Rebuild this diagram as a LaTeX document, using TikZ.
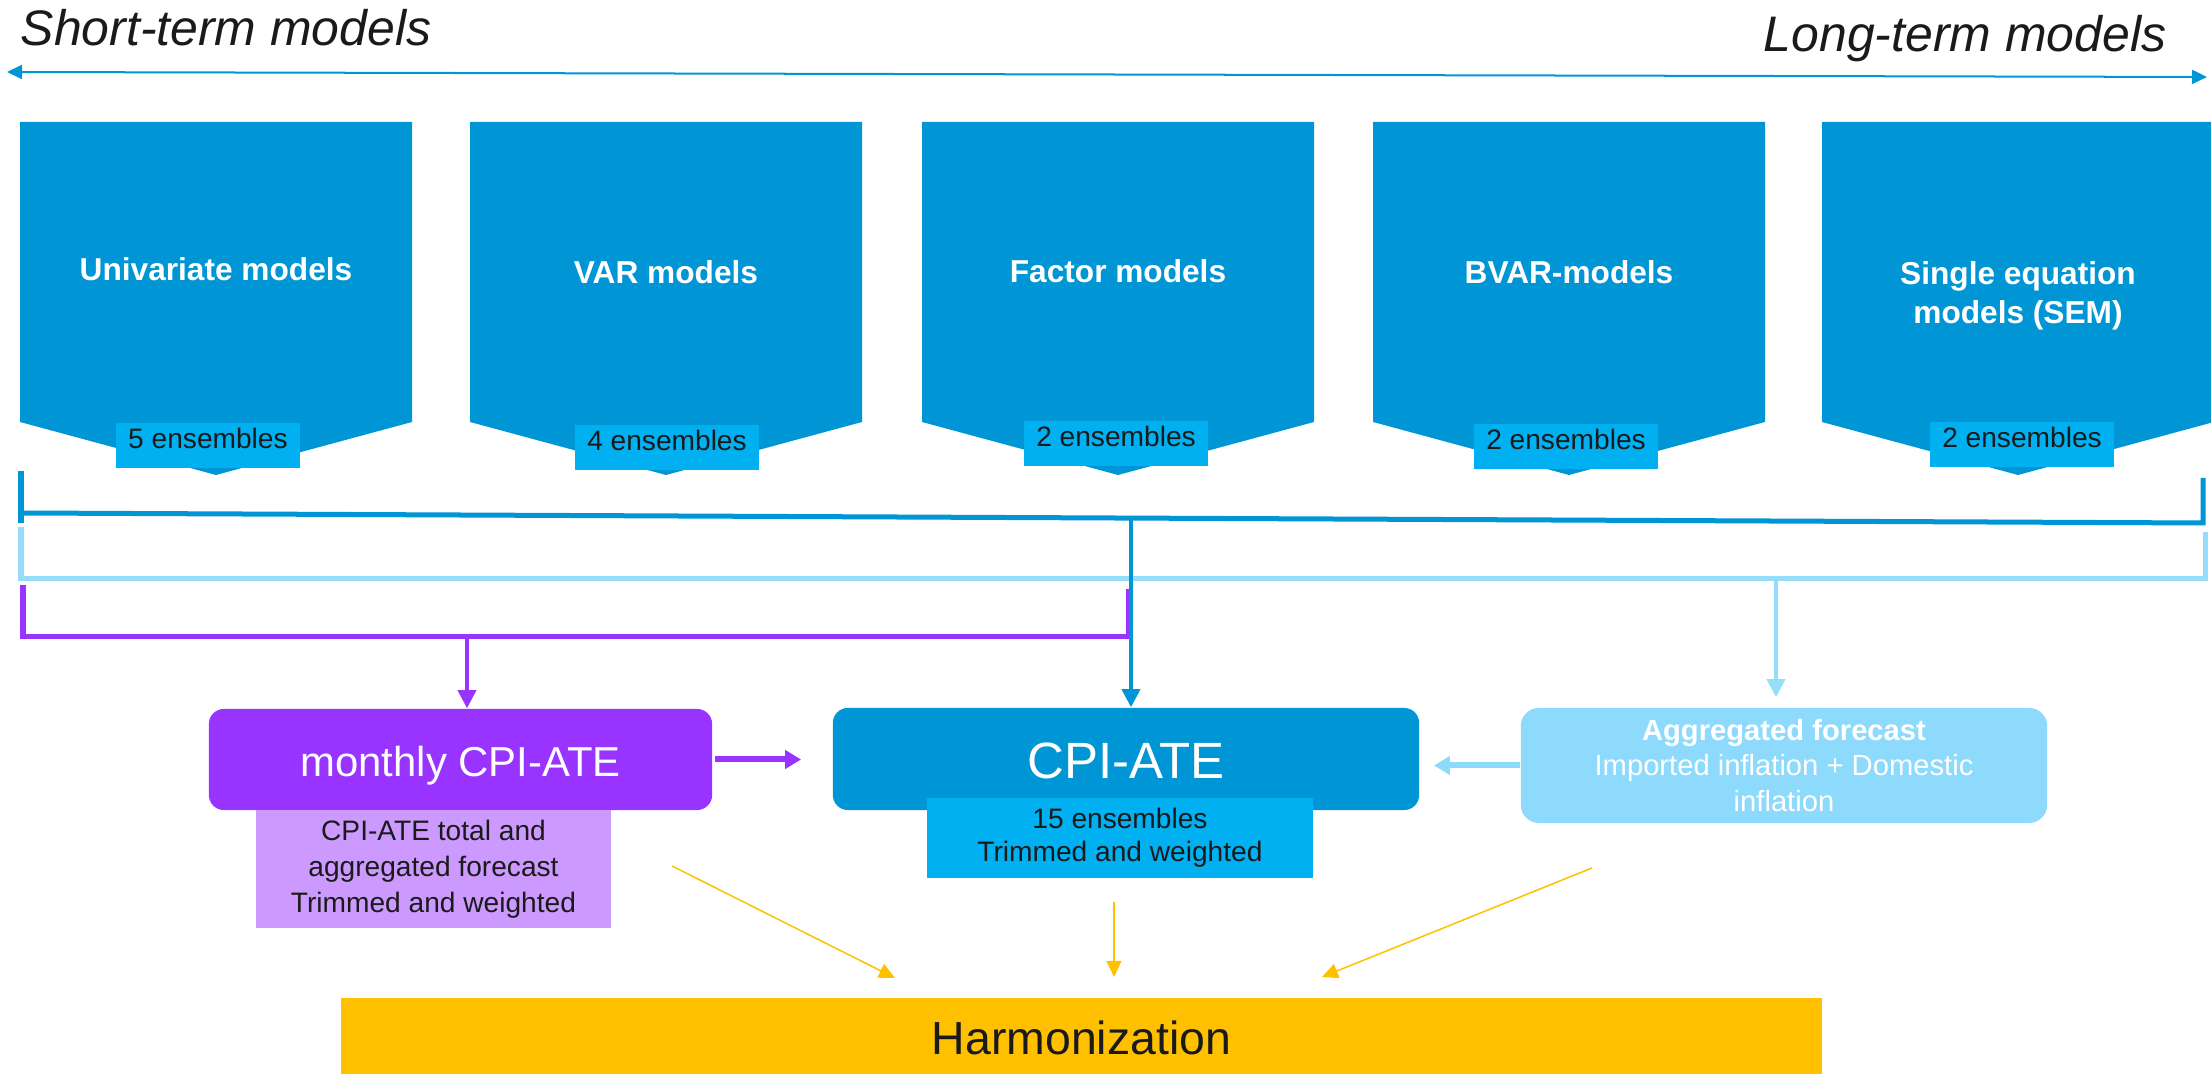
\documentclass[tikz,border=0pt]{standalone}
\usepackage{fontspec}
\setmainfont{Liberation Sans}
\usepackage{xcolor}
\usetikzlibrary{positioning,arrows.meta,calc}

\definecolor{modelblue}{RGB}{0,150,214}
\definecolor{ensblue}{RGB}{0,176,240}
\definecolor{aggblue}{RGB}{142,218,252}
\definecolor{brktblue}{RGB}{150,221,250}
\definecolor{mpurple}{RGB}{153,51,255}
\definecolor{lpurple}{RGB}{204,153,255}
\definecolor{harmgold}{RGB}{255,192,0}
\definecolor{inktxt}{RGB}{26,26,26}

\begin{document}
\begin{tikzpicture}[x=0.01cm, y=-0.01cm,
  horizon/.style={{Triangle[length=0.15cm,width=0.14cm]}-{Triangle[length=0.15cm,width=0.14cm]},
                  line width=0.02cm, draw=modelblue},
  toptitle/.style={inner sep=0pt, text=inktxt, font=\fontsize{14.2}{17}\selectfont\itshape},
  mbox/.style={fill=modelblue},
  mtitle/.style={anchor=north, inner sep=0pt, text=white, align=center,
                 font=\fontsize{9}{11.1}\selectfont\bfseries},
  ens/.style={anchor=north, fill=ensblue, text=inktxt, inner sep=0pt,
              minimum width=1.84cm, text height=0.26cm, text depth=0.19cm,
              font=\fontsize{8}{10}\selectfont},
  darkbrk/.style={line width=0.05cm, draw=modelblue},
  lightbrk/.style={line width=0.05cm, draw=brktblue},
  purpbrk/.style={line width=0.05cm, draw=mpurple},
  drop/.style={-{Triangle[length=0.18cm,width=0.18cm]}, line width=0.035cm},
  feed/.style={-{Triangle[length=0.16cm,width=0.18cm]}, line width=0.06cm},
  toharm/.style={-{Triangle[length=0.16cm,width=0.15cm]}, line width=0.015cm, draw=harmgold},
  flow/.style={rounded corners=0.15cm, inner sep=0pt, text=white},
  sub/.style={inner sep=0pt, text=inktxt, align=center}
]
\useasboundingbox (0,0) rectangle (2211,1074);

% horizon: short-term to long-term
\node[toptitle, anchor=base west] (short) at (20,46) {Short-term models};
\node[toptitle, anchor=base east] (long) at (2167,52) {Long-term models};
\coordinate (sl) at (7,72);
\coordinate (sr) at (2207,77);
\draw[horizon] (sl) -- (sr);

% model families
\fill[mbox] (20,122) -- (412,122) -- (412,422) -- (216,475) -- (20,422) -- cycle;
\fill[mbox] (470,122) -- (862,122) -- (862,422) -- (666,475) -- (470,422) -- cycle;
\fill[mbox] (922,122) -- (1314,122) -- (1314,422) -- (1118,475) -- (922,422) -- cycle;
\fill[mbox] (1373,122) -- (1765,122) -- (1765,422) -- (1569,475) -- (1373,422) -- cycle;
\fill[mbox] (1822,122) -- (2214,122) -- (2214,422) -- (2018,475) -- (1822,422) -- cycle;

\node[mtitle] (uni) at (216,257) {Univariate models};
\node[mtitle] (var) at (666,260) {VAR models};
\node[mtitle] (fac) at (1118,259) {Factor models};
\node[mtitle] (bvar) at (1569,260) {BVAR-models};
\node[mtitle] (sem) at (2018,261) {Single equation\\ models (SEM)};

\node[ens] (e1) at (208,422) {5 ensembles};
\node[ens] (e2) at (667,424) {4 ensembles};
\node[ens] (e3) at (1116,420) {2 ensembles};
\node[ens] (e4) at (1566,423) {2 ensembles};
\node[ens] (e5) at (2022,421) {2 ensembles};

% brackets
\coordinate (ua) at (21,471);
\coordinate (ub) at (21,523);
\coordinate (uc) at (21,513);
\coordinate (ud) at (2203,523);
\coordinate (ue) at (2203,478);
\draw[darkbrk] (ua) -- (ub);
\draw[darkbrk] (uc) -- (ud) -- (ue);

\coordinate (ma) at (21,527);
\coordinate (mb) at (21,579);
\coordinate (mc) at (2205,579);
\coordinate (md) at (2205,532);
\draw[lightbrk] (ma) -- (mb) -- (mc) -- (md);

\coordinate (la) at (23,585);
\coordinate (lb) at (23,637);
\coordinate (lc) at (1128,637);
\coordinate (ld) at (1128,589);
\draw[purpbrk] (la) -- (lb) -- (lc) -- (ld);

% forecasts
\node[flow, fill=mpurple, minimum width=5.03cm, text height=0.68cm, text depth=0.33cm,
      font=\fontsize{11.9}{14}\selectfont] (mcpi) at (460.5,759.5) {monthly CPI-ATE};
\node[sub, fill=lpurple, minimum width=3.55cm, minimum height=1.18cm,
      font=\fontsize{8}{10.2}\selectfont] (msub) at (433.5,869)
      {CPI-ATE total and\\ aggregated forecast\\ Trimmed and weighted};
\node[flow, fill=modelblue, minimum width=5.86cm, text height=0.71cm, text depth=0.31cm,
      font=\fontsize{14.5}{17}\selectfont] (cpi) at (1126,759) {CPI-ATE};
\node[sub, fill=ensblue, minimum width=3.86cm, minimum height=0.80cm,
      font=\fontsize{8}{9.4}\selectfont] (csub) at (1120,838)
      {15 ensembles\\ Trimmed and weighted};
\node[flow, fill=aggblue, rounded corners=0.18cm, minimum width=5.26cm, minimum height=1.15cm,
      align=center, font=\fontsize{8.3}{10}\selectfont] (agg) at (1784,765.5)
      {\textbf{Aggregated forecast}\\ Imported inflation + Domestic\\ inflation};
\node[fill=harmgold, inner sep=0pt, minimum width=14.81cm, text height=0.56cm, text depth=0.24cm,
      text=inktxt, font=\fontsize{13.2}{16}\selectfont] (harm) at (1081.5,1038) {Harmonization};

% drops from the brackets
\coordinate (pj) at (467,637);
\draw[drop, draw=mpurple] (pj) -- (pj |- mcpi.north);
\coordinate (lj) at (1776,579);
\draw[drop, draw=brktblue, shorten >=0.1cm] (lj) -- (lj |- agg.north);
\coordinate (dj) at (1131,518);
\draw[drop, draw=modelblue] (dj) -- (dj |- cpi.north);

% side feeds into CPI-ATE
\draw[feed, draw=mpurple, shorten <=0.02cm, shorten >=0.31cm] (mcpi.east) -- (mcpi.east -| cpi.west);
\draw[feed, draw=aggblue, shorten >=0.14cm] (agg.west) -- (agg.west -| cpi.east);

% into harmonization
\coordinate (y1s) at (672,866);
\coordinate (y1e) at (895,978);
\coordinate (y2s) at (1114,902);
\coordinate (y2e) at (1114,977);
\coordinate (y3s) at (1592,868);
\coordinate (y3e) at (1322,977);
\draw[toharm] (y1s) -- (y1e);
\draw[toharm] (y2s) -- (y2e);
\draw[toharm] (y3s) -- (y3e);
\end{tikzpicture}
\end{document}
